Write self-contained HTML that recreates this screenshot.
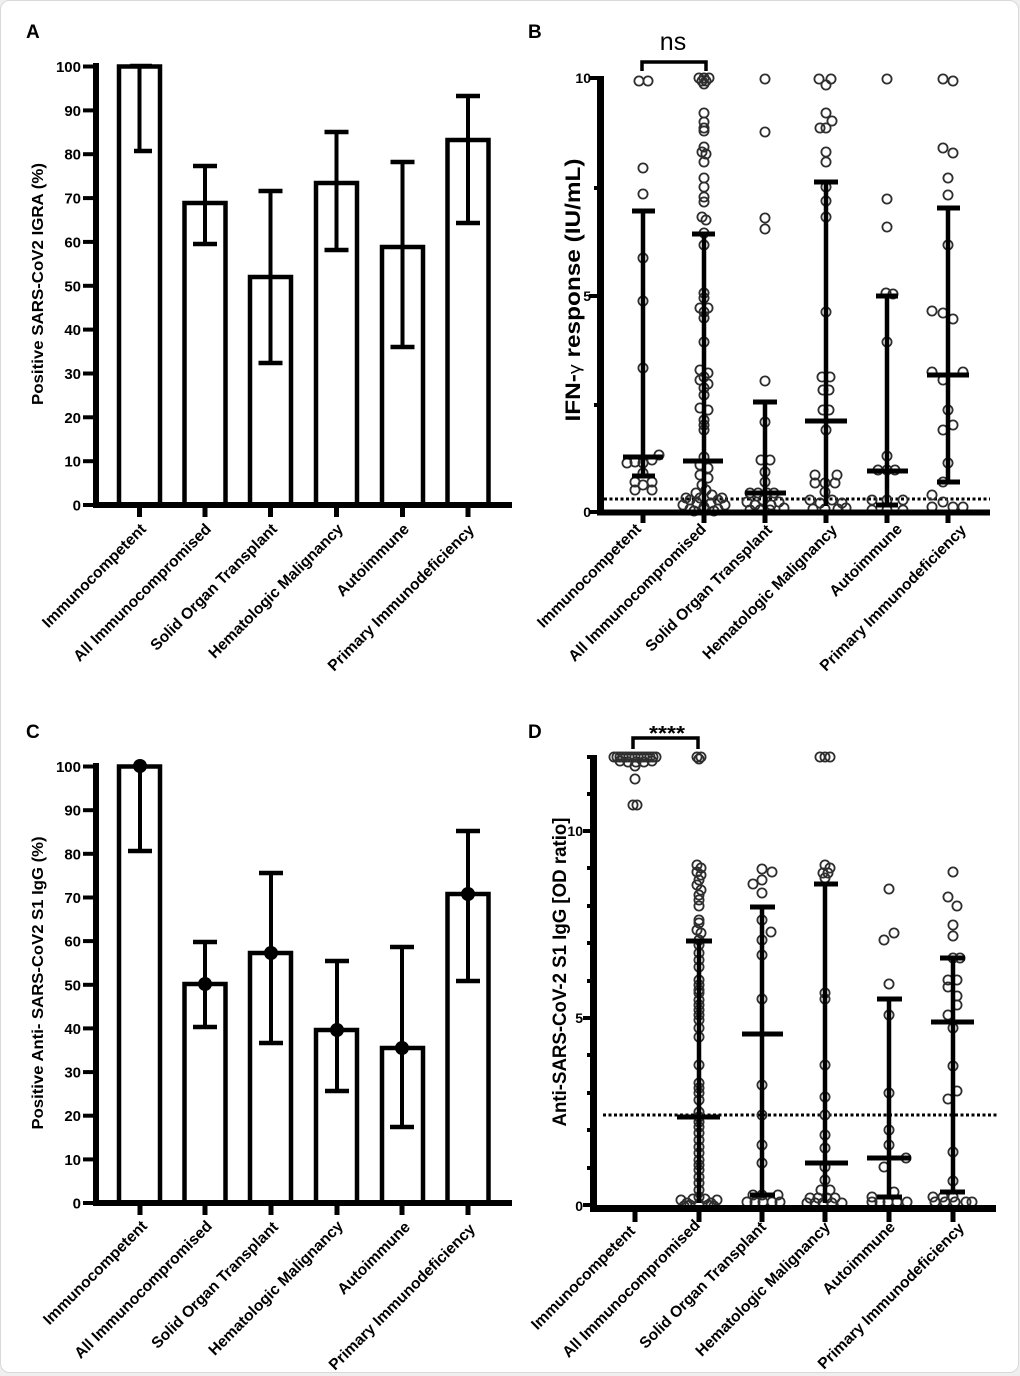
<!DOCTYPE html>
<html>
<head>
<meta charset="utf-8">
<style>
html,body{margin:0;padding:0;background:#efefef;}
svg{display:block;}
text{font-family:"Liberation Sans",Arial,sans-serif;font-weight:bold;fill:#000;}
.pt{fill:none;stroke:#2e2e2e;stroke-width:1.8;}
.k{stroke:#000;fill:none;}
</style>
</head>
<body>
<svg width="1020" height="1376" viewBox="0 0 1020 1376" xmlns="http://www.w3.org/2000/svg">
<rect x="0.5" y="0.5" width="1018" height="1372" rx="9" fill="#fff" stroke="#d9d9d9"/>

<!-- Panel letters -->
<text x="26" y="38" font-size="19">A</text>
<text x="528" y="38" font-size="19">B</text>
<text x="26" y="738" font-size="19">C</text>
<text x="528" y="738" font-size="19">D</text>

<!-- ================= PANEL A ================= -->
<g class="k">
<rect x="119" y="66.5" width="41" height="438.5" stroke-width="4.5" fill="#fff"/>
<rect x="184.5" y="203" width="41" height="302" stroke-width="4.5" fill="#fff"/>
<rect x="250" y="277" width="41" height="228" stroke-width="4.5" fill="#fff"/>
<rect x="316" y="183" width="41" height="322" stroke-width="4.5" fill="#fff"/>
<rect x="382" y="247" width="41" height="258" stroke-width="4.5" fill="#fff"/>
<rect x="447.5" y="140" width="41" height="365" stroke-width="4.5" fill="#fff"/>
</g>
<g stroke="#000" stroke-width="4">
<line x1="139.5" y1="66" x2="139.5" y2="151"/><line x1="130" y1="66" x2="152" y2="66" stroke-width="4.5"/><line x1="134" y1="151" x2="152" y2="151" stroke-width="4.5"/>
<line x1="205" y1="166" x2="205" y2="244"/><line x1="193" y1="166" x2="217" y2="166" stroke-width="4.5"/><line x1="193" y1="244" x2="217" y2="244" stroke-width="4.5"/>
<line x1="270.5" y1="191" x2="270.5" y2="363"/><line x1="258.5" y1="191" x2="282.5" y2="191" stroke-width="4.5"/><line x1="258.5" y1="363" x2="282.5" y2="363" stroke-width="4.5"/>
<line x1="336.5" y1="132" x2="336.5" y2="250"/><line x1="324.5" y1="132" x2="348.5" y2="132" stroke-width="4.5"/><line x1="324.5" y1="250" x2="348.5" y2="250" stroke-width="4.5"/>
<line x1="402.5" y1="162" x2="402.5" y2="347"/><line x1="390.5" y1="162" x2="414.5" y2="162" stroke-width="4.5"/><line x1="390.5" y1="347" x2="414.5" y2="347" stroke-width="4.5"/>
<line x1="468" y1="96" x2="468" y2="223"/><line x1="456" y1="96" x2="480" y2="96" stroke-width="4.5"/><line x1="456" y1="223" x2="480" y2="223" stroke-width="4.5"/>
</g>
<!-- axes A -->
<g stroke="#000">
<line x1="96" y1="63" x2="96" y2="508" stroke-width="6"/>
<line x1="93" y1="505" x2="512" y2="505" stroke-width="6"/>
<g stroke-width="4">
<line x1="83" y1="505" x2="96" y2="505"/><line x1="83" y1="461.2" x2="96" y2="461.2"/><line x1="83" y1="417.3" x2="96" y2="417.3"/><line x1="83" y1="373.5" x2="96" y2="373.5"/><line x1="83" y1="329.6" x2="96" y2="329.6"/><line x1="83" y1="285.8" x2="96" y2="285.8"/><line x1="83" y1="241.9" x2="96" y2="241.9"/><line x1="83" y1="198.1" x2="96" y2="198.1"/><line x1="83" y1="154.2" x2="96" y2="154.2"/><line x1="83" y1="110.4" x2="96" y2="110.4"/><line x1="83" y1="66.5" x2="96" y2="66.5"/>
</g>
<g stroke-width="5">
<line x1="139.5" y1="505" x2="139.5" y2="517"/><line x1="205" y1="505" x2="205" y2="517"/><line x1="270.5" y1="505" x2="270.5" y2="517"/><line x1="336.5" y1="505" x2="336.5" y2="517"/><line x1="402.5" y1="505" x2="402.5" y2="517"/><line x1="468" y1="505" x2="468" y2="517"/>
</g>
</g>
<g font-size="15" text-anchor="end">
<text x="81" y="510.5">0</text><text x="81" y="466.7">10</text><text x="81" y="422.8">20</text><text x="81" y="379">30</text><text x="81" y="335.1">40</text><text x="81" y="291.3">50</text><text x="81" y="247.4">60</text><text x="81" y="203.6">70</text><text x="81" y="159.7">80</text><text x="81" y="115.9">90</text><text x="81" y="72">100</text>
</g>
<text transform="translate(43,284) rotate(-90)" text-anchor="middle" font-size="16" textLength="242" lengthAdjust="spacingAndGlyphs">Positive SARS-CoV2 IGRA (%)</text>
<g font-size="15.6" text-anchor="end">
<text transform="translate(147,530) rotate(-45)">Immunocompetent</text>
<text transform="translate(212,530) rotate(-45)">All Immunocompromised</text>
<text transform="translate(278,530) rotate(-45)">Solid Organ Transplant</text>
<text transform="translate(344,530) rotate(-45)">Hematologic Malignancy</text>
<text transform="translate(410,530) rotate(-45)">Autoimmune</text>
<text transform="translate(475,531) rotate(-45)">Primary Immunodeficiency</text>
</g>

<!-- ================= PANEL C ================= -->
<g class="k">
<rect x="119" y="766.5" width="41" height="436.5" stroke-width="4.5" fill="#fff"/>
<rect x="184.5" y="984" width="41" height="219" stroke-width="4.5" fill="#fff"/>
<rect x="250" y="953" width="41" height="250" stroke-width="4.5" fill="#fff"/>
<rect x="316" y="1030" width="41" height="173" stroke-width="4.5" fill="#fff"/>
<rect x="382" y="1048" width="41" height="155" stroke-width="4.5" fill="#fff"/>
<rect x="447.5" y="894" width="41" height="309" stroke-width="4.5" fill="#fff"/>
</g>
<g stroke="#000" stroke-width="4">
<line x1="140" y1="766" x2="140" y2="851"/><line x1="128" y1="851" x2="152" y2="851" stroke-width="4.5"/>
<line x1="205" y1="942" x2="205" y2="1027"/><line x1="193" y1="942" x2="217" y2="942" stroke-width="4.5"/><line x1="193" y1="1027" x2="217" y2="1027" stroke-width="4.5"/>
<line x1="271" y1="873" x2="271" y2="1043"/><line x1="259" y1="873" x2="283" y2="873" stroke-width="4.5"/><line x1="259" y1="1043" x2="283" y2="1043" stroke-width="4.5"/>
<line x1="337" y1="961" x2="337" y2="1091"/><line x1="325" y1="961" x2="349" y2="961" stroke-width="4.5"/><line x1="325" y1="1091" x2="349" y2="1091" stroke-width="4.5"/>
<line x1="402" y1="947" x2="402" y2="1127"/><line x1="390" y1="947" x2="414" y2="947" stroke-width="4.5"/><line x1="390" y1="1127" x2="414" y2="1127" stroke-width="4.5"/>
<line x1="468" y1="831" x2="468" y2="981"/><line x1="456" y1="831" x2="480" y2="831" stroke-width="4.5"/><line x1="456" y1="981" x2="480" y2="981" stroke-width="4.5"/>
</g>
<g fill="#000">
<circle cx="140" cy="766" r="7"/><circle cx="205" cy="984" r="7"/><circle cx="271" cy="953" r="7"/><circle cx="337" cy="1030" r="7"/><circle cx="402" cy="1048" r="7"/><circle cx="468" cy="894" r="7"/>
</g>
<g stroke="#000">
<line x1="96" y1="763" x2="96" y2="1206" stroke-width="6"/>
<line x1="93" y1="1203" x2="512" y2="1203" stroke-width="6"/>
<g stroke-width="4">
<line x1="83" y1="1203" x2="96" y2="1203"/><line x1="83" y1="1159.4" x2="96" y2="1159.4"/><line x1="83" y1="1115.7" x2="96" y2="1115.7"/><line x1="83" y1="1072.1" x2="96" y2="1072.1"/><line x1="83" y1="1028.4" x2="96" y2="1028.4"/><line x1="83" y1="984.8" x2="96" y2="984.8"/><line x1="83" y1="941.1" x2="96" y2="941.1"/><line x1="83" y1="897.5" x2="96" y2="897.5"/><line x1="83" y1="853.8" x2="96" y2="853.8"/><line x1="83" y1="810.2" x2="96" y2="810.2"/><line x1="83" y1="766.5" x2="96" y2="766.5"/>
</g>
<g stroke-width="5">
<line x1="140" y1="1203" x2="140" y2="1215"/><line x1="205" y1="1203" x2="205" y2="1215"/><line x1="271" y1="1203" x2="271" y2="1215"/><line x1="337" y1="1203" x2="337" y2="1215"/><line x1="402" y1="1203" x2="402" y2="1215"/><line x1="468" y1="1203" x2="468" y2="1215"/>
</g>
</g>
<g font-size="15" text-anchor="end">
<text x="81" y="1208.5">0</text><text x="81" y="1164.9">10</text><text x="81" y="1121.2">20</text><text x="81" y="1077.6">30</text><text x="81" y="1033.9">40</text><text x="81" y="990.3">50</text><text x="81" y="946.6">60</text><text x="81" y="903">70</text><text x="81" y="859.3">80</text><text x="81" y="815.7">90</text><text x="81" y="772">100</text>
</g>
<text transform="translate(43,983) rotate(-90)" text-anchor="middle" font-size="16" textLength="293" lengthAdjust="spacingAndGlyphs">Positive Anti- SARS-CoV2 S1 IgG (%)</text>
<g font-size="15.6" text-anchor="end">
<text transform="translate(148,1227) rotate(-45)">Immunocompetent</text>
<text transform="translate(213,1227) rotate(-45)">All Immunocompromised</text>
<text transform="translate(279,1228) rotate(-45)">Solid Organ Transplant</text>
<text transform="translate(344,1227) rotate(-45)">Hematologic Malignancy</text>
<text transform="translate(411,1228) rotate(-45)">Autoimmune</text>
<text transform="translate(476,1230) rotate(-45)">Primary Immunodeficiency</text>
</g>

<!-- ================= PANEL B ================= -->
<text x="673" y="50" font-size="25" text-anchor="middle" style="font-weight:normal">ns</text>
<polyline points="642,71 642,62 706,62 706,71" fill="none" stroke="#000" stroke-width="3.5"/>
<line x1="604" y1="499" x2="990" y2="499" stroke="#000" stroke-width="3" stroke-dasharray="3 2.5"/>
<g class="pt">
<!-- col1 -->
<circle cx="639" cy="81" r="4.6"/><circle cx="648" cy="81" r="4.6"/><circle cx="643" cy="168" r="4.6"/><circle cx="643" cy="194" r="4.6"/><circle cx="643" cy="258" r="4.6"/><circle cx="643" cy="301" r="4.6"/><circle cx="643" cy="368" r="4.6"/>
<circle cx="627" cy="463" r="4.6"/><circle cx="635" cy="462" r="4.6"/><circle cx="643" cy="463" r="4.6"/><circle cx="652" cy="460" r="4.6"/><circle cx="659" cy="455" r="4.6"/><circle cx="643" cy="473" r="4.6"/><circle cx="635" cy="482" r="4.6"/><circle cx="652" cy="482" r="4.6"/><circle cx="635" cy="490" r="4.6"/><circle cx="643" cy="485" r="4.6"/><circle cx="652" cy="490" r="4.6"/>
<!-- col2 -->
<circle cx="699" cy="78" r="4.6"/><circle cx="704" cy="78" r="4.6"/><circle cx="709" cy="78" r="4.6"/><circle cx="702" cy="81" r="4.6"/><circle cx="706" cy="81" r="4.6"/><circle cx="704" cy="84" r="4.6"/>
<circle cx="704" cy="113" r="4.6"/><circle cx="704" cy="122" r="4.6"/><circle cx="704" cy="128" r="4.6"/><circle cx="704" cy="131" r="4.6"/><circle cx="704" cy="147" r="4.6"/><circle cx="702" cy="152" r="4.6"/><circle cx="706" cy="154" r="4.6"/><circle cx="704" cy="162" r="4.6"/><circle cx="704" cy="178" r="4.6"/><circle cx="704" cy="187" r="4.6"/><circle cx="704" cy="197" r="4.6"/><circle cx="704" cy="202" r="4.6"/><circle cx="702" cy="217" r="4.6"/><circle cx="706" cy="220" r="4.6"/><circle cx="704" cy="233" r="4.6"/><circle cx="704" cy="245" r="4.6"/><circle cx="704" cy="293" r="4.6"/><circle cx="704" cy="298" r="4.6"/><circle cx="700" cy="308" r="4.6"/><circle cx="708" cy="308" r="4.6"/><circle cx="704" cy="312" r="4.6"/><circle cx="704" cy="318" r="4.6"/><circle cx="704" cy="342" r="4.6"/><circle cx="700" cy="370" r="4.6"/><circle cx="708" cy="373" r="4.6"/><circle cx="704" cy="377" r="4.6"/><circle cx="700" cy="380" r="4.6"/><circle cx="708" cy="384" r="4.6"/><circle cx="704" cy="388" r="4.6"/><circle cx="704" cy="395" r="4.6"/><circle cx="700" cy="408" r="4.6"/><circle cx="708" cy="410" r="4.6"/><circle cx="704" cy="420" r="4.6"/><circle cx="704" cy="425" r="4.6"/><circle cx="704" cy="430" r="4.6"/><circle cx="704" cy="457" r="4.6"/><circle cx="700" cy="465" r="4.6"/><circle cx="708" cy="468" r="4.6"/><circle cx="700" cy="475" r="4.6"/><circle cx="708" cy="478" r="4.6"/><circle cx="702" cy="485" r="4.6"/><circle cx="706" cy="490" r="4.6"/><circle cx="696" cy="493" r="4.6"/><circle cx="712" cy="495" r="4.6"/><circle cx="700" cy="498" r="4.6"/><circle cx="690" cy="500" r="4.6"/><circle cx="718" cy="500" r="4.6"/><circle cx="683" cy="505" r="4.6"/><circle cx="697" cy="503" r="4.6"/><circle cx="711" cy="503" r="4.6"/><circle cx="725" cy="505" r="4.6"/><circle cx="690" cy="509" r="4.6"/><circle cx="704" cy="507" r="4.6"/><circle cx="718" cy="509" r="4.6"/><circle cx="694" cy="511" r="4.6"/><circle cx="714" cy="511" r="4.6"/><circle cx="686" cy="498" r="4.6"/><circle cx="722" cy="498" r="4.6"/>
<!-- col3 -->
<circle cx="765" cy="79" r="4.6"/><circle cx="765" cy="132" r="4.6"/><circle cx="765" cy="218" r="4.6"/><circle cx="765" cy="229" r="4.6"/><circle cx="765" cy="381" r="4.6"/><circle cx="765" cy="422" r="4.6"/><circle cx="761" cy="460" r="4.6"/><circle cx="770" cy="460" r="4.6"/><circle cx="765" cy="472" r="4.6"/><circle cx="765" cy="482" r="4.6"/><circle cx="750" cy="493" r="4.6"/><circle cx="758" cy="493" r="4.6"/><circle cx="767" cy="493" r="4.6"/><circle cx="774" cy="493" r="4.6"/><circle cx="747" cy="502" r="4.6"/><circle cx="755" cy="505" r="4.6"/><circle cx="763" cy="500" r="4.6"/><circle cx="771" cy="505" r="4.6"/><circle cx="779" cy="502" r="4.6"/><circle cx="784" cy="508" r="4.6"/><circle cx="750" cy="510" r="4.6"/><circle cx="760" cy="510" r="4.6"/><circle cx="770" cy="510" r="4.6"/>
<!-- col4 -->
<circle cx="819" cy="79" r="4.6"/><circle cx="831" cy="79" r="4.6"/><circle cx="826" cy="85" r="4.6"/><circle cx="826" cy="113" r="4.6"/><circle cx="832" cy="121" r="4.6"/><circle cx="820" cy="128" r="4.6"/><circle cx="826" cy="128" r="4.6"/><circle cx="826" cy="152" r="4.6"/><circle cx="826" cy="162" r="4.6"/><circle cx="826" cy="187" r="4.6"/><circle cx="826" cy="201" r="4.6"/><circle cx="826" cy="217" r="4.6"/><circle cx="826" cy="312" r="4.6"/><circle cx="822" cy="377" r="4.6"/><circle cx="830" cy="377" r="4.6"/><circle cx="823" cy="390" r="4.6"/><circle cx="829" cy="390" r="4.6"/><circle cx="823" cy="410" r="4.6"/><circle cx="829" cy="410" r="4.6"/><circle cx="826" cy="430" r="4.6"/><circle cx="815" cy="475" r="4.6"/><circle cx="837" cy="475" r="4.6"/><circle cx="815" cy="483" r="4.6"/><circle cx="825" cy="483" r="4.6"/><circle cx="835" cy="483" r="4.6"/><circle cx="825" cy="492" r="4.6"/><circle cx="810" cy="500" r="4.6"/><circle cx="820" cy="503" r="4.6"/><circle cx="832" cy="500" r="4.6"/><circle cx="842" cy="503" r="4.6"/><circle cx="813" cy="509" r="4.6"/><circle cx="825" cy="509" r="4.6"/><circle cx="838" cy="509" r="4.6"/><circle cx="846" cy="508" r="4.6"/>
<!-- col5 -->
<circle cx="887" cy="79" r="4.6"/><circle cx="887" cy="199" r="4.6"/><circle cx="887" cy="227" r="4.6"/><circle cx="886" cy="293" r="4.6"/><circle cx="893" cy="294" r="4.6"/><circle cx="887" cy="342" r="4.6"/><circle cx="887" cy="456" r="4.6"/><circle cx="878" cy="470" r="4.6"/><circle cx="887" cy="470" r="4.6"/><circle cx="895" cy="470" r="4.6"/><circle cx="872" cy="500" r="4.6"/><circle cx="887" cy="500" r="4.6"/><circle cx="903" cy="500" r="4.6"/><circle cx="872" cy="510" r="4.6"/><circle cx="887" cy="510" r="4.6"/><circle cx="903" cy="510" r="4.6"/>
<!-- col6 -->
<circle cx="943" cy="79" r="4.6"/><circle cx="953" cy="81" r="4.6"/><circle cx="943" cy="148" r="4.6"/><circle cx="953" cy="153" r="4.6"/><circle cx="948" cy="178" r="4.6"/><circle cx="948" cy="195" r="4.6"/><circle cx="948" cy="245" r="4.6"/><circle cx="932" cy="311" r="4.6"/><circle cx="943" cy="313" r="4.6"/><circle cx="953" cy="319" r="4.6"/><circle cx="932" cy="372" r="4.6"/><circle cx="963" cy="372" r="4.6"/><circle cx="943" cy="380" r="4.6"/><circle cx="948" cy="410" r="4.6"/><circle cx="953" cy="425" r="4.6"/><circle cx="943" cy="430" r="4.6"/><circle cx="948" cy="463" r="4.6"/><circle cx="943" cy="482" r="4.6"/><circle cx="932" cy="495" r="4.6"/><circle cx="943" cy="502" r="4.6"/><circle cx="932" cy="507" r="4.6"/><circle cx="953" cy="507" r="4.6"/><circle cx="963" cy="507" r="4.6"/>
</g>
<!-- B error bars -->
<g stroke="#000" stroke-width="4.5">
<line x1="643" y1="211" x2="643" y2="476"/><line x1="632" y1="211" x2="655" y2="211" stroke-width="5"/><line x1="632" y1="476" x2="655" y2="476" stroke-width="5"/><line x1="623" y1="457" x2="663" y2="457" stroke-width="5"/>
<line x1="704" y1="234" x2="704" y2="510"/><line x1="692" y1="234" x2="715" y2="234" stroke-width="5"/><line x1="683" y1="461" x2="723" y2="461" stroke-width="5"/>
<line x1="765" y1="402" x2="765" y2="510"/><line x1="753" y1="402" x2="777" y2="402" stroke-width="5"/><line x1="745" y1="493" x2="786" y2="493" stroke-width="5"/>
<line x1="826" y1="182" x2="826" y2="506"/><line x1="814" y1="182" x2="838" y2="182" stroke-width="5"/><line x1="805" y1="421" x2="847" y2="421" stroke-width="5"/>
<line x1="887" y1="296" x2="887" y2="505"/><line x1="876" y1="296" x2="898" y2="296" stroke-width="5"/><line x1="867" y1="471" x2="908" y2="471" stroke-width="5"/><line x1="876" y1="505" x2="898" y2="505" stroke-width="5"/>
<line x1="948" y1="208" x2="948" y2="482"/><line x1="937" y1="208" x2="960" y2="208" stroke-width="5"/><line x1="927" y1="375" x2="969" y2="375" stroke-width="5"/><line x1="937" y1="482" x2="960" y2="482" stroke-width="5"/>
</g>
<!-- B axes -->
<g stroke="#000">
<line x1="600.5" y1="76" x2="600.5" y2="515.5" stroke-width="7"/>
<line x1="597" y1="512.5" x2="990" y2="512.5" stroke-width="6"/>
<g stroke-width="4"><line x1="589" y1="78" x2="600" y2="78"/><line x1="589" y1="296" x2="600" y2="296"/><line x1="589" y1="512" x2="600" y2="512"/><line x1="594" y1="188" x2="600" y2="188"/><line x1="594" y1="405" x2="600" y2="405"/></g>
<g stroke-width="5"><line x1="643" y1="512" x2="643" y2="523"/><line x1="704" y1="512" x2="704" y2="523"/><line x1="765" y1="512" x2="765" y2="523"/><line x1="826" y1="512" x2="826" y2="523"/><line x1="887" y1="512" x2="887" y2="523"/><line x1="948" y1="512" x2="948" y2="523"/></g>
</g>
<g font-size="14" text-anchor="end">
<text x="591" y="83">10</text><text x="591" y="301">5</text><text x="591" y="517">0</text>
</g>
<text transform="translate(580,290) rotate(-90)" text-anchor="middle" font-size="21" textLength="263" lengthAdjust="spacingAndGlyphs">IFN-<tspan style="font-weight:normal" font-size="17">γ</tspan> response (IU/mL)</text>
<g font-size="15.6" text-anchor="end">
<text transform="translate(642,530) rotate(-45)">Immunocompetent</text>
<text transform="translate(707,530) rotate(-45)">All Immunocompromised</text>
<text transform="translate(773,531) rotate(-45)">Solid Organ Transplant</text>
<text transform="translate(838,531) rotate(-45)">Hematologic Malignancy</text>
<text transform="translate(903,530) rotate(-45)">Autoimmune</text>
<text transform="translate(967,531) rotate(-45)">Primary Immunodeficiency</text>
</g>

<!-- ================= PANEL D ================= -->
<text x="667" y="740" font-size="20" text-anchor="middle" textLength="36" lengthAdjust="spacingAndGlyphs">****</text>
<polyline points="633,749 633,738 698,738 698,749" fill="none" stroke="#000" stroke-width="3.5"/>
<line x1="603" y1="1115" x2="997" y2="1115" stroke="#000" stroke-width="3" stroke-dasharray="3 2.5"/>
<g class="pt">
<!-- col1 -->
<circle cx="614" cy="757" r="4.6"/><circle cx="617" cy="757" r="4.6"/><circle cx="620" cy="757" r="4.6"/><circle cx="623" cy="757" r="4.6"/><circle cx="626" cy="757" r="4.6"/><circle cx="629" cy="757" r="4.6"/><circle cx="632" cy="757" r="4.6"/><circle cx="635" cy="757" r="4.6"/><circle cx="638" cy="757" r="4.6"/><circle cx="641" cy="757" r="4.6"/><circle cx="644" cy="757" r="4.6"/><circle cx="647" cy="757" r="4.6"/><circle cx="650" cy="757" r="4.6"/><circle cx="653" cy="757" r="4.6"/><circle cx="656" cy="757" r="4.6"/>
<circle cx="620" cy="761" r="4.6"/><circle cx="628" cy="762" r="4.6"/><circle cx="636" cy="762" r="4.6"/><circle cx="644" cy="762" r="4.6"/><circle cx="652" cy="761" r="4.6"/><circle cx="635" cy="766" r="4.6"/>
<circle cx="635" cy="779" r="4.6"/><circle cx="633" cy="805" r="4.6"/><circle cx="637" cy="805" r="4.6"/>
<!-- col2 -->
<circle cx="697" cy="757" r="4.6"/><circle cx="701" cy="757" r="4.6"/><circle cx="699" cy="759" r="4.6"/>
<circle cx="697" cy="865" r="4.6"/><circle cx="701" cy="868" r="4.6"/><circle cx="697" cy="872" r="4.6"/><circle cx="701" cy="875" r="4.6"/><circle cx="699" cy="880" r="4.6"/><circle cx="697" cy="885" r="4.6"/><circle cx="701" cy="890" r="4.6"/><circle cx="699" cy="895" r="4.6"/><circle cx="699" cy="900" r="4.6"/><circle cx="699" cy="906" r="4.6"/><circle cx="699" cy="920" r="4.6"/><circle cx="699" cy="923" r="4.6"/><circle cx="697" cy="930" r="4.6"/><circle cx="701" cy="933" r="4.6"/><circle cx="699" cy="940" r="4.6"/><circle cx="699" cy="945" r="4.6"/><circle cx="699" cy="953" r="4.6"/><circle cx="699" cy="960" r="4.6"/><circle cx="699" cy="967" r="4.6"/><circle cx="699" cy="980" r="4.6"/><circle cx="699" cy="985" r="4.6"/><circle cx="699" cy="990" r="4.6"/><circle cx="699" cy="993" r="4.6"/><circle cx="699" cy="1000" r="4.6"/><circle cx="699" cy="1005" r="4.6"/><circle cx="699" cy="1010" r="4.6"/><circle cx="699" cy="1015" r="4.6"/><circle cx="699" cy="1020" r="4.6"/><circle cx="699" cy="1028" r="4.6"/><circle cx="699" cy="1037" r="4.6"/><circle cx="699" cy="1065" r="4.6"/><circle cx="699" cy="1083" r="4.6"/><circle cx="699" cy="1088" r="4.6"/><circle cx="699" cy="1093" r="4.6"/><circle cx="699" cy="1100" r="4.6"/><circle cx="699" cy="1112" r="4.6"/><circle cx="699" cy="1117" r="4.6"/><circle cx="699" cy="1122" r="4.6"/><circle cx="699" cy="1127" r="4.6"/><circle cx="699" cy="1133" r="4.6"/><circle cx="699" cy="1140" r="4.6"/><circle cx="699" cy="1147" r="4.6"/><circle cx="699" cy="1153" r="4.6"/><circle cx="699" cy="1160" r="4.6"/><circle cx="699" cy="1165" r="4.6"/><circle cx="699" cy="1170" r="4.6"/><circle cx="699" cy="1177" r="4.6"/><circle cx="699" cy="1183" r="4.6"/><circle cx="699" cy="1190" r="4.6"/><circle cx="699" cy="1197" r="4.6"/>
<circle cx="681" cy="1200" r="4.6"/><circle cx="687" cy="1203" r="4.6"/><circle cx="693" cy="1199" r="4.6"/><circle cx="705" cy="1199" r="4.6"/><circle cx="711" cy="1203" r="4.6"/><circle cx="717" cy="1200" r="4.6"/><circle cx="690" cy="1205" r="4.6"/><circle cx="708" cy="1205" r="4.6"/><circle cx="699" cy="1204" r="4.6"/><circle cx="684" cy="1206" r="4.6"/><circle cx="714" cy="1206" r="4.6"/>
<!-- col3 -->
<circle cx="762" cy="869" r="4.6"/><circle cx="772" cy="872" r="4.6"/><circle cx="753" cy="884" r="4.6"/><circle cx="762" cy="880" r="4.6"/><circle cx="762" cy="893" r="4.6"/><circle cx="762" cy="920" r="4.6"/><circle cx="771" cy="932" r="4.6"/><circle cx="762" cy="940" r="4.6"/><circle cx="762" cy="955" r="4.6"/><circle cx="762" cy="999" r="4.6"/><circle cx="762" cy="1085" r="4.6"/><circle cx="762" cy="1115" r="4.6"/><circle cx="762" cy="1145" r="4.6"/><circle cx="762" cy="1163" r="4.6"/><circle cx="753" cy="1195" r="4.6"/><circle cx="762" cy="1195" r="4.6"/><circle cx="778" cy="1195" r="4.6"/><circle cx="747" cy="1202" r="4.6"/><circle cx="755" cy="1202" r="4.6"/><circle cx="763" cy="1202" r="4.6"/><circle cx="772" cy="1202" r="4.6"/><circle cx="780" cy="1202" r="4.6"/>
<!-- col4 -->
<circle cx="820" cy="757" r="4.6"/><circle cx="825" cy="757" r="4.6"/><circle cx="830" cy="757" r="4.6"/>
<circle cx="825" cy="865" r="4.6"/><circle cx="830" cy="868" r="4.6"/><circle cx="823" cy="873" r="4.6"/><circle cx="828" cy="873" r="4.6"/><circle cx="825" cy="878" r="4.6"/><circle cx="825" cy="993" r="4.6"/><circle cx="825" cy="999" r="4.6"/><circle cx="825" cy="1065" r="4.6"/><circle cx="825" cy="1097" r="4.6"/><circle cx="825" cy="1115" r="4.6"/><circle cx="825" cy="1135" r="4.6"/><circle cx="825" cy="1148" r="4.6"/><circle cx="825" cy="1167" r="4.6"/><circle cx="825" cy="1180" r="4.6"/><circle cx="821" cy="1190" r="4.6"/><circle cx="830" cy="1190" r="4.6"/><circle cx="810" cy="1198" r="4.6"/><circle cx="818" cy="1198" r="4.6"/><circle cx="827" cy="1198" r="4.6"/><circle cx="835" cy="1198" r="4.6"/><circle cx="807" cy="1203" r="4.6"/><circle cx="815" cy="1203" r="4.6"/><circle cx="823" cy="1203" r="4.6"/><circle cx="832" cy="1203" r="4.6"/><circle cx="842" cy="1203" r="4.6"/>
<!-- col5 -->
<circle cx="889" cy="889" r="4.6"/><circle cx="894" cy="933" r="4.6"/><circle cx="884" cy="940" r="4.6"/><circle cx="889" cy="984" r="4.6"/><circle cx="889" cy="1015" r="4.6"/><circle cx="889" cy="1093" r="4.6"/><circle cx="889" cy="1130" r="4.6"/><circle cx="889" cy="1145" r="4.6"/><circle cx="906" cy="1158" r="4.6"/><circle cx="884" cy="1167" r="4.6"/><circle cx="894" cy="1192" r="4.6"/><circle cx="872" cy="1197" r="4.6"/><circle cx="872" cy="1202" r="4.6"/><circle cx="880" cy="1202" r="4.6"/><circle cx="888" cy="1202" r="4.6"/><circle cx="897" cy="1202" r="4.6"/><circle cx="907" cy="1202" r="4.6"/>
<!-- col6 -->
<circle cx="953" cy="872" r="4.6"/><circle cx="948" cy="897" r="4.6"/><circle cx="957" cy="906" r="4.6"/><circle cx="953" cy="925" r="4.6"/><circle cx="953" cy="936" r="4.6"/><circle cx="953" cy="958" r="4.6"/><circle cx="960" cy="958" r="4.6"/><circle cx="948" cy="980" r="4.6"/><circle cx="957" cy="980" r="4.6"/><circle cx="948" cy="987" r="4.6"/><circle cx="957" cy="996" r="4.6"/><circle cx="957" cy="1005" r="4.6"/><circle cx="948" cy="1015" r="4.6"/><circle cx="953" cy="1028" r="4.6"/><circle cx="953" cy="1066" r="4.6"/><circle cx="957" cy="1091" r="4.6"/><circle cx="948" cy="1099" r="4.6"/><circle cx="953" cy="1152" r="4.6"/><circle cx="953" cy="1181" r="4.6"/><circle cx="933" cy="1197" r="4.6"/><circle cx="943" cy="1197" r="4.6"/><circle cx="953" cy="1197" r="4.6"/><circle cx="935" cy="1202" r="4.6"/><circle cx="945" cy="1202" r="4.6"/><circle cx="955" cy="1202" r="4.6"/><circle cx="966" cy="1202" r="4.6"/><circle cx="972" cy="1202" r="4.6"/>
</g>
<!-- D error bars -->
<g stroke="#000" stroke-width="4.5">
<line x1="699" y1="941" x2="699" y2="1203"/><line x1="686" y1="941" x2="712" y2="941" stroke-width="5"/><line x1="677" y1="1117" x2="720" y2="1117" stroke-width="5"/>
<line x1="762" y1="907" x2="762" y2="1195"/><line x1="750" y1="907" x2="775" y2="907" stroke-width="5"/><line x1="742" y1="1034" x2="783" y2="1034" stroke-width="5"/><line x1="750" y1="1195" x2="775" y2="1195" stroke-width="5"/>
<line x1="825" y1="884" x2="825" y2="1203"/><line x1="814" y1="884" x2="838" y2="884" stroke-width="5"/><line x1="805" y1="1163" x2="848" y2="1163" stroke-width="5"/>
<line x1="889" y1="999" x2="889" y2="1197"/><line x1="877" y1="999" x2="902" y2="999" stroke-width="5"/><line x1="867" y1="1158" x2="911" y2="1158" stroke-width="5"/><line x1="877" y1="1197" x2="902" y2="1197" stroke-width="5"/>
<line x1="953" y1="958" x2="953" y2="1192"/><line x1="940" y1="958" x2="965" y2="958" stroke-width="5"/><line x1="931" y1="1022" x2="974" y2="1022" stroke-width="5"/><line x1="940" y1="1192" x2="965" y2="1192" stroke-width="5"/>
</g>
<!-- D axes -->
<g stroke="#000">
<line x1="593.5" y1="755" x2="593.5" y2="1211" stroke-width="7"/>
<line x1="590" y1="1208.5" x2="996" y2="1208.5" stroke-width="7"/>
<g stroke-width="4">
<line x1="583" y1="831" x2="593" y2="831"/><line x1="583" y1="1018" x2="593" y2="1018"/><line x1="583" y1="1205" x2="593" y2="1205"/>
<line x1="587" y1="757" x2="593" y2="757"/><line x1="587" y1="794" x2="593" y2="794"/><line x1="587" y1="868" x2="593" y2="868"/><line x1="587" y1="906" x2="593" y2="906"/><line x1="587" y1="943" x2="593" y2="943"/><line x1="587" y1="981" x2="593" y2="981"/><line x1="587" y1="1055" x2="593" y2="1055"/><line x1="587" y1="1093" x2="593" y2="1093"/><line x1="587" y1="1130" x2="593" y2="1130"/><line x1="587" y1="1168" x2="593" y2="1168"/>
</g>
<g stroke-width="5"><line x1="635" y1="1208" x2="635" y2="1222"/><line x1="699" y1="1208" x2="699" y2="1222"/><line x1="762" y1="1208" x2="762" y2="1222"/><line x1="825" y1="1208" x2="825" y2="1222"/><line x1="889" y1="1208" x2="889" y2="1222"/><line x1="953" y1="1208" x2="953" y2="1222"/></g>
</g>
<g font-size="14" text-anchor="end">
<text x="583" y="836">10</text><text x="583" y="1023">5</text><text x="583" y="1211">0</text>
</g>
<text transform="translate(566,972) rotate(-90)" text-anchor="middle" font-size="19" textLength="309" lengthAdjust="spacingAndGlyphs">Anti-SARS-CoV-2 S1 IgG [OD ratio]</text>
<g font-size="15.6" text-anchor="end">
<text transform="translate(636,1232) rotate(-45)">Immunocompetent</text>
<text transform="translate(701,1226) rotate(-45)">All Immunocompromised</text>
<text transform="translate(767,1228) rotate(-45)">Solid Organ Transplant</text>
<text transform="translate(831,1228) rotate(-45)">Hematologic Malignancy</text>
<text transform="translate(896,1228) rotate(-45)">Autoimmune</text>
<text transform="translate(965,1229) rotate(-45)">Primary Immunodeficiency</text>
</g>
</svg>
</body>
</html>
